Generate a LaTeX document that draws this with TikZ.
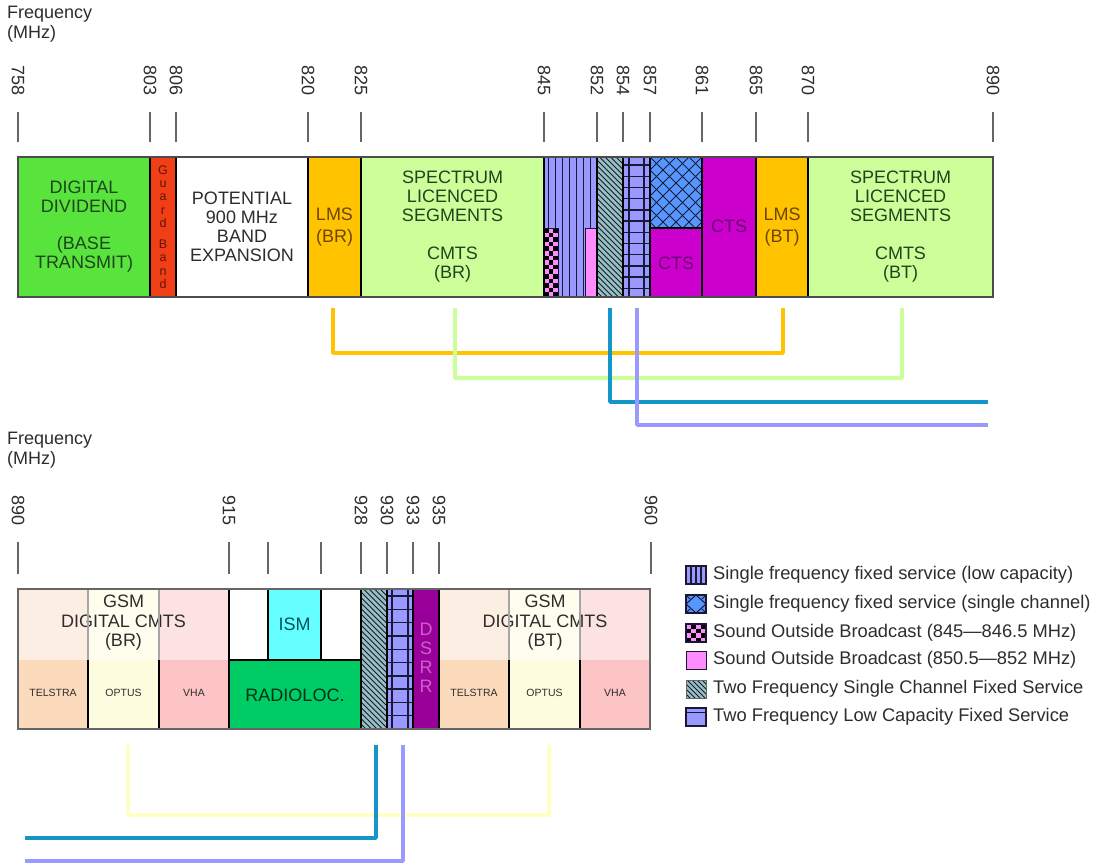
\documentclass[tikz,border=0pt]{standalone}
\usepackage{fontspec}
\setmainfont{Liberation Sans}
\definecolor{ddgreen}{RGB}{88,228,60}
\definecolor{guardred}{RGB}{240,62,22}
\definecolor{lmsor}{RGB}{255,195,0}
\definecolor{slgreen}{RGB}{204,255,153}
\definecolor{lav}{RGB}{153,153,255}
\definecolor{sobpink}{RGB}{255,140,255}
\definecolor{hatchbg}{RGB}{150,192,192}
\definecolor{xblue}{RGB}{85,150,255}
\definecolor{ctsmag}{RGB}{204,0,204}
\definecolor{dsrrpur}{RGB}{153,0,153}
\definecolor{ismcyan}{RGB}{102,255,255}
\definecolor{radgreen}{RGB}{0,204,102}
\definecolor{telT}{RGB}{253,238,228}
\definecolor{telB}{RGB}{252,218,188}
\definecolor{optT}{RGB}{255,254,238}
\definecolor{optB}{RGB}{254,252,222}
\definecolor{vhaT}{RGB}{253,226,226}
\definecolor{vhaB}{RGB}{252,196,196}
\definecolor{navyd}{RGB}{25,25,55}
\definecolor{teal}{RGB}{20,150,200}
\definecolor{paleyel}{RGB}{255,255,195}
\definecolor{txtdg}{RGB}{30,70,30}
\definecolor{txtbr}{RGB}{110,70,0}
\definecolor{txtpu}{RGB}{105,0,115}
\definecolor{txtgr}{RGB}{45,45,45}
\definecolor{dsrrtxt}{RGB}{205,95,205}
\definecolor{guardtxt}{RGB}{100,20,5}
\begin{document}
\begin{tikzpicture}[x=1pt,y=-1pt,
  txt/.style={font=\fontsize{18}{19}\selectfont, align=center, inner sep=0pt},
  smalltxt/.style={font=\fontsize{10.5}{12}\selectfont, inner sep=0pt, text=txtgr},
  ticklbl/.style={rotate=-90, anchor=west, font=\fontsize{18}{18}\selectfont, inner sep=0pt, text=txtgr},
  tickln/.style={draw=black!60, line width=1.3},
  divider/.style={draw=black, line width=1.8},
  conn/.style={line width=3.4, line join=round},
  hatchln/.style={line width=1.0, draw=navyd},
  legtxt/.style={anchor=west, font=\fontsize{18.3}{20}\selectfont, inner sep=0pt, text=txtgr},
  legbox/.style={draw=navyd, line width=1.4},
  freqlbl/.style={anchor=north west, align=left, font=\fontsize{18}{20}\selectfont, inner sep=0pt, text=txtgr}
]
\useasboundingbox (0,0) rectangle (1101,867);

% ================= TOP CHART =================
\node[freqlbl] (freq1) at (7,6) {Frequency\\(MHz)};
\foreach \x/\l in {18/758,150/803,176/806,308/820,361/825,544/845,597/852,623/854,650/857,702/861,756/865,808/870,993/890}{
  \draw[tickln] (\x,112) -- (\x,142);
  \node[ticklbl] (t\l) at (\x,65) {\l};
}

% fills
\fill[ddgreen] (18,157) rectangle (150,297);
\fill[guardred] (150,157) rectangle (176,297);
\fill[white] (176,157) rectangle (308,297);
\fill[lmsor] (308,157) rectangle (361,297);
\fill[slgreen] (361,157) rectangle (544,297);
% single freq fixed (low capacity)
\fill[lav] (544,157) rectangle (597,297);
\foreach \k in {0,...,6}{ \draw[hatchln] (548+\k*7,157) -- (548+\k*7,297); }
% checker SOB
\fill[sobpink] (544,228) rectangle (558,297);
\foreach \i in {0,1,2}{\foreach \j in {0,...,14}{
  \pgfmathtruncatemacro\kk{mod(\i+\j,2)}
  \ifnum\kk=0 \fill[black] (544+\i*4.667,228+\j*4.6) rectangle ++(4.667,4.6); \fi
}}
\draw[navyd,line width=1] (544,228) rectangle (558,297);
\fill[sobpink] (585,228) rectangle (597,297);
\draw[navyd,line width=1] (585,228) rectangle (597,297);
% two freq single channel (hatch)
\fill[hatchbg] (597,157) rectangle (623,297);
\begin{scope}
  \clip (597,157) rectangle (623,297);
  \foreach \k in {0,...,32}{ \draw[hatchln] (440+\k*5.5,157) -- ++(150,150); }
\end{scope}
% two freq low capacity (grid)
\fill[lav] (623,157) rectangle (650,297);
\draw[hatchln,line width=1.4] (629,157) -- (629,297) (644,157) -- (644,297);
\foreach \k in {0,...,11}{ \draw[hatchln,line width=1.4] (623,165+\k*11.2) -- (650,165+\k*11.2); }
% single channel cross-hatch
\fill[xblue] (650,157) rectangle (702,228);
\begin{scope}
  \clip (650,157) rectangle (702,228);
  \foreach \k in {-7,...,5}{
    \draw[hatchln] (650+\k*13,157) -- ++(80,80);
    \draw[hatchln] (702-\k*13,157) -- ++(-80,80);
  }
\end{scope}
\fill[ctsmag] (650,228) rectangle (702,297);
\draw[black,line width=1.2] (650,228) -- (702,228);
\fill[ctsmag] (702,157) rectangle (756,297);
\fill[lmsor] (756,157) rectangle (808,297);
\fill[slgreen] (808,157) rectangle (993,297);

% dividers and outline
\foreach \x in {150,176,308,361,544,597,623,650,702,756,808}{ \draw[divider] (\x,157) -- (\x,297); }
\draw[black!70,line width=1.2] (18,157) rectangle (993,297);

% texts
\node[txt,text=txtdg] (dd) at (84,227) {DIGITAL\\DIVIDEND\\[18pt](BASE\\TRANSMIT)};
\node[font=\fontsize{12.5}{13.3}\selectfont, align=center, inner sep=0pt, text=guardtxt] (gb) at (163,227) {G\\u\\a\\r\\d\\[8pt]B\\a\\n\\d};
\node[txt,text=txtgr] (pot) at (242,227) {POTENTIAL\\900 MHz\\BAND\\EXPANSION};
\node[txt,text=txtbr,font=\fontsize{18}{22}\selectfont] (lmsbr) at (334.5,227) {LMS\\(BR)};
\node[txt,text=txtdg] (slbr) at (452.5,227) {SPECTRUM\\LICENCED\\SEGMENTS\\[19pt]CMTS\\(BR)};
\node[txt,text=txtpu] (cts1) at (676,263) {CTS};
\node[txt,text=txtpu] (cts2) at (729,226) {CTS};
\node[txt,text=txtbr,font=\fontsize{18}{22}\selectfont] (lmsbt) at (782,227) {LMS\\(BT)};
\node[txt,text=txtdg] (slbt) at (900.5,227) {SPECTRUM\\LICENCED\\SEGMENTS\\[19pt]CMTS\\(BT)};

% connectors top
\coordinate (oL) at (333,308); \coordinate (oR) at (783,308);
\coordinate (gL) at (455,308); \coordinate (gR) at (902,308);
\coordinate (tT) at (610,308); \coordinate (tE) at (988,402);
\coordinate (lT) at (637,308); \coordinate (lE) at (988,425);
\draw[conn,lmsor] (oL) -- ++(0,45) -| (oR);
\draw[conn,slgreen] (gL) -- ++(0,70) -| (gR);
\draw[conn,teal] (tT) |- (tE);
\draw[conn,lav] (lT) |- (lE);

% ================= BOTTOM CHART =================
\node[freqlbl] (freq2) at (7,432) {Frequency\\(MHz)};
\foreach \x/\l in {18/890,229/915,361/928,387/930,413/933,439/935,651/960}{
  \draw[tickln] (\x,542) -- (\x,574);
  \node[ticklbl] (b\l) at (\x,495) {\l};
}
\draw[tickln] (268,542) -- (268,574);
\draw[tickln] (321,542) -- (321,574);

% GSM BR
\fill[telT] (18,589) rectangle (88,660);   \fill[telB] (18,660) rectangle (88,729);
\fill[optT] (88,589) rectangle (159,660);  \fill[optB] (88,660) rectangle (159,729);
\fill[vhaT] (159,589) rectangle (229,660); \fill[vhaB] (159,660) rectangle (229,729);
% 915-928
\fill[white] (229,589) rectangle (361,660);
\fill[ismcyan] (268,589) rectangle (321,660);
\draw[black,line width=1.3] (268,589) -- (268,660) -- (321,660) -- (321,589);
\fill[radgreen] (229,660) rectangle (361,729);
\draw[black,line width=1.5] (229,660) -- (361,660);
% hatch 928-930
\fill[hatchbg] (361,589) rectangle (387,729);
\begin{scope}
  \clip (361,589) rectangle (387,729);
  \foreach \k in {0,...,32}{ \draw[hatchln] (204+\k*5.5,589) -- ++(150,150); }
\end{scope}
% grid 930-933
\fill[lav] (387,589) rectangle (413,729);
\draw[hatchln,line width=1.4] (392,589) -- (392,729) (408,589) -- (408,729);
\foreach \k in {0,...,9}{ \draw[hatchln,line width=1.4] (387,596+\k*13.3) -- (413,596+\k*13.3); }
% DSRR
\fill[dsrrpur] (413,589) rectangle (439,729);
% GSM BT
\fill[telT] (439,589) rectangle (509,660);  \fill[telB] (439,660) rectangle (509,729);
\fill[optT] (509,589) rectangle (580,660);  \fill[optB] (509,660) rectangle (580,729);
\fill[vhaT] (580,589) rectangle (650,660);  \fill[vhaB] (580,660) rectangle (650,729);

% texts bottom
\node[txt,text=txtgr,font=\fontsize{18}{19.5}\selectfont] (gsmbr) at (123.5,623) {GSM\\DIGITAL CMTS\\(BR)};
\node[txt,text=txtgr,font=\fontsize{18}{19.5}\selectfont] (gsmbt) at (545,623) {GSM\\DIGITAL CMTS\\(BT)};
\node[smalltxt] (tel1) at (53,693) {TELSTRA};
\node[smalltxt] (opt1) at (123.5,693) {OPTUS};
\node[smalltxt] (vha1) at (194,693) {VHA};
\node[smalltxt] (tel2) at (474,693) {TELSTRA};
\node[smalltxt] (opt2) at (544.5,693) {OPTUS};
\node[smalltxt] (vha2) at (615,693) {VHA};
\node[txt,text={rgb,255:red,0;green,85;blue,95}] (ism) at (294.5,624) {ISM};
\node[txt,text={rgb,255:red,0;green,50;blue,25}] (rad) at (295,695) {RADIOLOC.};
\node[txt,text=dsrrtxt,font=\fontsize{18}{19}\selectfont] (dsrr) at (426,658) {D\\S\\R\\R};

% dividers bottom
\foreach \x in {88,159,509,580}{
  \draw[black!35,line width=1.2] (\x,589) -- (\x,660);
  \draw[black,line width=1.6] (\x,660) -- (\x,729);
}
\foreach \x in {229,361,387,413,439}{ \draw[divider] (\x,589) -- (\x,729); }
\draw[black!60,line width=1.2] (18,589) rectangle (650,729);

% connectors bottom
\coordinate (yL) at (128,745); \coordinate (yR) at (549,745);
\coordinate (bt) at (376,745); \coordinate (btE) at (25,838);
\coordinate (bl) at (403,745); \coordinate (blE) at (25,861);
\draw[conn,paleyel] (yL) -- ++(0,70) -| (yR);
\draw[conn,teal] (bt) |- (btE);
\draw[conn,lav] (bl) |- (blE);

% ================= LEGEND =================
% 1 single freq low capacity
\fill[lav] (686,566) rectangle (706,584);
\draw[navyd,line width=1.2] (691,566) -- (691,584) (696,566) -- (696,584) (701,566) -- (701,584);
\draw[legbox] (686,566) rectangle (706,584);
\node[legtxt] (leg1) at (713,575) {Single frequency fixed service (low capacity)};
% 2 single channel
\fill[xblue] (686,595) rectangle (706,613);
\begin{scope}
  \clip (686,595) rectangle (706,613);
  \draw[navyd,line width=1] (686,604) -- (696,595) -- (706,604) -- (696,613) -- cycle;
  \draw[navyd,line width=1] (686,595) -- (690,599) (706,595) -- (702,599) (686,613) -- (690,609) (706,613) -- (702,609);
\end{scope}
\draw[legbox] (686,595) rectangle (706,613);
\node[legtxt] (leg2) at (713,604) {Single frequency fixed service (single channel)};
% 3 checker
\fill[sobpink] (686,624) rectangle (706,642);
\foreach \i in {0,...,3}{\foreach \j in {0,...,3}{
  \pgfmathtruncatemacro\kk{mod(\i+\j,2)}
  \ifnum\kk=1 \fill[black] (686+\i*5,624+\j*4.5) rectangle ++(5,4.5); \fi
}}
\draw[legbox] (686,624) rectangle (706,642);
\node[legtxt] (leg3) at (713,633) {Sound Outside Broadcast (845---846.5 MHz)};
% 4 pink
\fill[sobpink] (686,651) rectangle (706,669);
\draw[navyd,line width=1] (686,651) rectangle (706,669);
\node[legtxt] (leg4) at (713,660) {Sound Outside Broadcast (850.5---852 MHz)};
% 5 hatch
\fill[hatchbg] (686,680) rectangle (706,698);
\begin{scope}
  \clip (686,680) rectangle (706,698);
  \foreach \k in {0,...,8}{ \draw[hatchln] (662+\k*5,680) -- ++(30,30); }
\end{scope}
\draw[black!60,line width=1] (686,680) rectangle (706,698);
\node[legtxt] (leg5) at (713,689) {Two Frequency Single Channel Fixed Service};
% 6 two freq low capacity
\fill[lav] (686,708) rectangle (706,726);
\draw[navyd,line width=1] (686,712) -- (706,712);
\draw[navyd,line width=2] (686,708) rectangle (706,726);
\node[legtxt] (leg6) at (713,717) {Two Frequency Low Capacity Fixed Service};
\end{tikzpicture}
\end{document}
